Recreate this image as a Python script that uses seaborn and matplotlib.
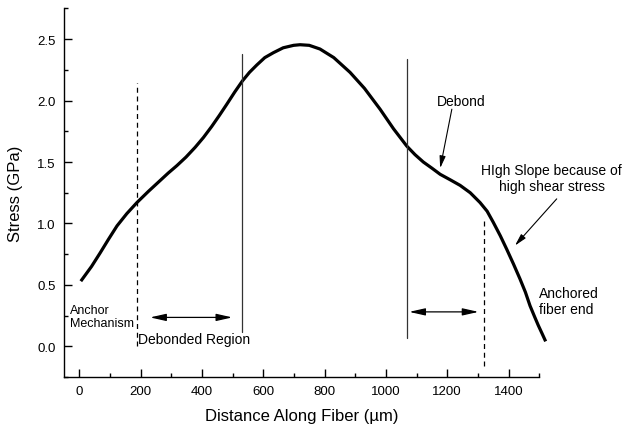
import numpy as np
import pandas as pd
import seaborn as sns
import matplotlib.pyplot as plt
from matplotlib.ticker import MultipleLocator

# stress profile (distance in um, stress in GPa)
distance = [5, 40, 68, 95, 123, 155, 188, 225, 264, 290, 318, 348, 378, 405,
            432, 457, 481, 507, 532, 555, 579, 605, 633, 665, 699, 720, 750,
            785, 830, 883, 930, 981, 1025, 1068, 1095, 1122, 1150, 1177, 1210,
            1242, 1275, 1307, 1330, 1350, 1373, 1394, 1416, 1437, 1455, 1470,
            1485, 1497, 1510, 1521]
stress = [0.53, 0.65, 0.76, 0.87, 0.98, 1.08, 1.17, 1.26, 1.35, 1.41, 1.47,
          1.54, 1.62, 1.70, 1.79, 1.88, 1.97, 2.07, 2.16, 2.23, 2.29, 2.35,
          2.39, 2.43, 2.45, 2.455, 2.45, 2.42, 2.35, 2.23, 2.10, 1.93, 1.77,
          1.63, 1.56, 1.50, 1.45, 1.40, 1.355, 1.31, 1.25, 1.17, 1.10, 1.01,
          0.90, 0.79, 0.67, 0.55, 0.44, 0.33, 0.24, 0.17, 0.10, 0.04]

# region markers
dashed_x = [189, 1321]
dashed_y0 = [0.0, -0.16]
dashed_y1 = [2.14, 1.03]
solid_x = [531, 1068]
solid_y0 = [0.12, 0.07]
solid_y1 = [2.38, 2.34]

# double arrows: (x_start, x_end, y)
span_arrows = [(231, 499, 0.235), (1076, 1302, 0.28)]

x_ticks = [0, 200, 400, 600, 800, 1000, 1200, 1400]
y_ticks = [0.0, 0.5, 1.0, 1.5, 2.0, 2.5]

df = pd.DataFrame({"distance": distance, "stress": stress})

sns.set_theme(style="ticks")
plt.rcParams["font.family"] = ["Liberation Sans", "DejaVu Sans"]
plt.rcParams["text.color"] = "black"
plt.rcParams["axes.labelcolor"] = "black"
plt.rcParams["xtick.color"] = "black"
plt.rcParams["ytick.color"] = "black"

fig = plt.figure(figsize=(6.27, 4.31), dpi=100)
ax = fig.add_axes([0.102, 0.123, 0.758, 0.855])

sns.lineplot(data=df, x="distance", y="stress", ax=ax, color="black",
             linewidth=2.3, sort=False, clip_on=False,
             solid_joinstyle="round", solid_capstyle="butt")

for x, y0, y1 in zip(dashed_x, dashed_y0, dashed_y1):
    ax.plot([x, x], [y0, y1], color="black", lw=0.9, ls=(0, (4, 3)))
for x, y0, y1 in zip(solid_x, solid_y0, solid_y1):
    ax.plot([x, x], [y0, y1], color="#333333", lw=0.9)

for x0, x1, y in span_arrows:
    ax.annotate("", xy=(x1, y), xytext=(x0, y),
                arrowprops=dict(arrowstyle="<|-|>,head_length=0.8,head_width=0.18",
                                color="black", lw=0.9, shrinkA=0, shrinkB=0))

# text labels
ax.text(-29, 0.24, "Anchor\nMechanism", fontsize=9, ha="left", va="center",
        linespacing=1.1)
ax.text(192, 0.06, "Debonded Region", fontsize=10, ha="left", va="center")
ax.text(1244, 2.0, "Debond", fontsize=10, ha="center", va="center")
ax.annotate("", xy=(1177, 1.45), xytext=(1215, 1.93),
            arrowprops=dict(arrowstyle="-|>,head_length=0.6,head_width=0.15",
                            color="black", lw=0.8, shrinkA=0, shrinkB=0))
ax.text(1541, 1.37, "HIgh Slope because of\nhigh shear stress", fontsize=10,
        ha="center", va="center", linespacing=1.1)
ax.annotate("", xy=(1421, 0.82), xytext=(1557, 1.20),
            arrowprops=dict(arrowstyle="-|>,head_length=0.6,head_width=0.15",
                            color="black", lw=0.8, shrinkA=0, shrinkB=0),
            annotation_clip=False)
ax.text(1498, 0.37, "Anchored\nfiber end", fontsize=10, ha="left", va="center",
        linespacing=1.2)

ax.set_xlim(-50, 1500)
ax.set_ylim(-0.25, 2.75)
ax.set_xticks(x_ticks)
ax.set_yticks(y_ticks)
ax.set_yticklabels([f"{v:.1f}" for v in y_ticks])
ax.xaxis.set_minor_locator(MultipleLocator(100))
ax.yaxis.set_minor_locator(MultipleLocator(0.25))
ax.tick_params(which="both", direction="in", labelsize=9.5, color="black",
               labelcolor="black", width=1, pad=6)
ax.tick_params(which="major", length=6)
ax.tick_params(which="minor", length=3)

sns.despine(ax=ax)
for s in ["left", "bottom"]:
    ax.spines[s].set_color("black")
    ax.spines[s].set_linewidth(1)

ax.set_xlabel("Distance Along Fiber (µm)", fontsize=12, labelpad=8)
ax.set_ylabel("Stress (GPa)", fontsize=12, labelpad=10)

fig.savefig("out.png", dpi=100)
